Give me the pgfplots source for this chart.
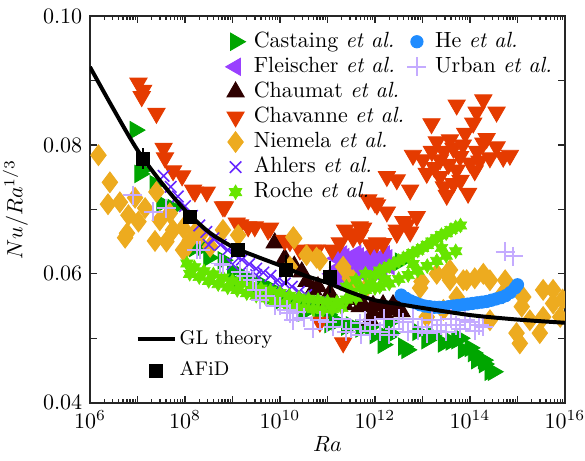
\documentclass[border=0pt]{standalone}
\usepackage{pgfplots}
\pgfplotsset{compat=1.18}
\usetikzlibrary{plotmarks}

\definecolor{cCas}{rgb}{0.00,0.65,0.00}
\definecolor{cFle}{rgb}{0.60,0.25,1.00}
\definecolor{cCha}{rgb}{0.18,0.00,0.00}
\definecolor{cChv}{rgb}{0.90,0.23,0.00}
\definecolor{cNie}{rgb}{0.93,0.67,0.12}
\definecolor{cAhl}{rgb}{0.40,0.15,1.00}
\definecolor{cRoc}{rgb}{0.40,0.90,0.00}
\definecolor{cHe}{rgb}{0.12,0.55,1.00}
\definecolor{cUrb}{rgb}{0.77,0.67,1.00}
\definecolor{axgray}{rgb}{0.15,0.15,0.15}

% six-pointed star marker
\pgfdeclareplotmark{hexagram}{%
  \pgfpathmoveto{\pgfpointpolar{90}{\pgfplotmarksize}}%
  \pgfpathlineto{\pgfpointpolar{120}{0.57735\pgfplotmarksize}}%
  \pgfpathlineto{\pgfpointpolar{150}{\pgfplotmarksize}}%
  \pgfpathlineto{\pgfpointpolar{180}{0.57735\pgfplotmarksize}}%
  \pgfpathlineto{\pgfpointpolar{210}{\pgfplotmarksize}}%
  \pgfpathlineto{\pgfpointpolar{240}{0.57735\pgfplotmarksize}}%
  \pgfpathlineto{\pgfpointpolar{270}{\pgfplotmarksize}}%
  \pgfpathlineto{\pgfpointpolar{300}{0.57735\pgfplotmarksize}}%
  \pgfpathlineto{\pgfpointpolar{330}{\pgfplotmarksize}}%
  \pgfpathlineto{\pgfpointpolar{0}{0.57735\pgfplotmarksize}}%
  \pgfpathlineto{\pgfpointpolar{30}{\pgfplotmarksize}}%
  \pgfpathlineto{\pgfpointpolar{60}{0.57735\pgfplotmarksize}}%
  \pgfpathclose
  \pgfusepathqfillstroke
}

\pgfplotsset{
  cas/.style={only marks, mark=triangle*, mark size=4.5pt, color=cCas, mark options={rotate=-90, fill=cCas, draw=cCas}},
  fle/.style={only marks, mark=triangle*, mark size=4.5pt, color=cFle, mark options={rotate=90, fill=cFle, draw=cFle}},
  cha/.style={only marks, mark=triangle*, mark size=4.5pt, color=cCha, mark options={fill=cCha, draw=cCha}},
  chv/.style={only marks, mark=triangle*, mark size=4.5pt, color=cChv, mark options={rotate=180, fill=cChv, draw=cChv}},
  nie/.style={only marks, mark=diamond*, mark size=4.7pt, color=cNie, mark options={fill=cNie, draw=cNie}},
  ahl/.style={only marks, mark=x, mark size=3.7pt, color=cAhl, mark options={line width=0.7pt}},
  roc/.style={only marks, mark=hexagram, mark size=3.3pt, color=cRoc, mark options={fill=cRoc, draw=cRoc, line width=0.3pt}},
  hee/.style={only marks, mark=*, mark size=2.8pt, color=cHe, mark options={fill=cHe, draw=cHe}},
  urb/.style={only marks, mark=+, mark size=4.3pt, color=cUrb, mark options={line width=0.9pt}},
  mleg/.style={legend image code/.code={%
      \path[draw=none, fill=none] (0cm,-0.1cm) rectangle (0.45cm,0.1cm);
      \draw[##1] plot coordinates {(0.225cm,0cm)};}},
}

\begin{document}
\begin{tikzpicture}
\begin{axis}[
  scale only axis, width=216pt, height=175.8pt,
  xmode=log, xmin=1e6, xmax=1e16, ymin=0.04, ymax=0.10,
  name=main,
  clip marker paths=true,
  xtick={1e6,1e7,1e8,1e9,1e10,1e11,1e12,1e13,1e14,1e15,1e16},
  xticklabels={$10^{6}$,,$10^{8}$,,$10^{10}$,,$10^{12}$,,$10^{14}$,,$10^{16}$},
  minor xtick={2e6,3e6,4e6,5e6,6e6,7e6,8e6,9e6,2e7,3e7,4e7,5e7,6e7,7e7,8e7,9e7,
    2e8,3e8,4e8,5e8,6e8,7e8,8e8,9e8,2e9,3e9,4e9,5e9,6e9,7e9,8e9,9e9,
    2e10,3e10,4e10,5e10,6e10,7e10,8e10,9e10,2e11,3e11,4e11,5e11,6e11,7e11,8e11,9e11,
    2e12,3e12,4e12,5e12,6e12,7e12,8e12,9e12,2e13,3e13,4e13,5e13,6e13,7e13,8e13,9e13,
    2e14,3e14,4e14,5e14,6e14,7e14,8e14,9e14,2e15,3e15,4e15,5e15,6e15,7e15,8e15,9e15},
  ytick={0.04,0.05,0.06,0.07,0.08,0.09,0.10},
  yticklabels={0.04,,0.06,,0.08,,0.10},
  xlabel={$Ra$}, ylabel={$Nu/Ra^{1/3}$},
  xlabel style={yshift=3pt},
  axis line style={axgray, line width=0.9pt},
  every tick/.style={axgray, line width=0.6pt},
  major tick length=3.2pt, minor tick length=1.8pt,
  legend columns=2,
  legend style={at={(0.276,0.964)}, anchor=north west, draw=none, fill=none,
    inner sep=0pt, row sep=1.1pt,
    nodes={inner sep=0.4pt, text height=7.2pt, text depth=2.3pt},
    /tikz/every odd column/.append style={column sep=1.5pt},
    /tikz/every even column/.append style={column sep=-1pt}},
  legend cell align=left,
]
% Castaing et al.
\addplot[cas, forget plot] coordinates {
(8.91e6,0.0823) (1.23e7,0.0761) (1.12e7,0.0755) (2.34e7,0.0739) (3.24e7,0.0709)
(5.62e7,0.0702) (2.40e8,0.0642) (1.58e8,0.0640) (3.16e8,0.0625) (6.31e8,0.0621)
(1e9,0.0605) (1.26e9,0.0585) (1.58e9,0.0598) (2.0e9,0.0592) (2.51e9,0.0578)
(3.98e9,0.0585) (5.01e9,0.0578) (6.31e9,0.0565) (7.24e9,0.0575) (1e10,0.0558)
(1.26e10,0.0562) (2.0e10,0.0556) (2.51e10,0.0552) (3.16e10,0.0540) (3.98e10,0.0548)
(6.92e10,0.0544) (1e11,0.0537) (1.12e11,0.0522) (1.26e11,0.0530) (1.58e11,0.0526)
(2.51e11,0.0518) (3.16e11,0.0520) (5.01e11,0.0515) (7.94e11,0.0518) (1e12,0.0505)
(1.48e12,0.0490) (1.78e12,0.0502) (2.0e12,0.0525) (2.09e12,0.0508) (3.98e12,0.0487)
(4.68e12,0.0482) (7.94e12,0.0510) (3.39e12,0.0619) (1.23e13,0.0497) (1.58e13,0.0505)
(2.75e13,0.0492) (3.98e13,0.0495) (5.25e13,0.0497) (6.17e13,0.0500) (7.24e13,0.0482)
(1e14,0.0485) (1.17e14,0.0477) (1.38e14,0.0466) (1.91e14,0.0466) (2.0e14,0.0460)
(2.63e14,0.0448) (3.09e14,0.0448)
};
% Fleischer et al.
\addplot[fle, forget plot] coordinates {
(1.58e11,0.0624) (2.24e11,0.0626) (3.16e11,0.0623) (4.47e11,0.0627) (6.31e11,0.0625)
(8.91e11,0.0628) (1.26e12,0.0626) (1.78e12,0.0624)
(1.78e11,0.0610) (2.51e11,0.0612) (3.55e11,0.0608) (5.01e11,0.0613) (7.08e11,0.0611)
(1e12,0.0614) (1.41e12,0.0610) (2.0e12,0.0612)
(2.0e11,0.0597) (2.82e11,0.0599) (3.98e11,0.0596) (5.62e11,0.0600) (7.94e11,0.0598)
(1.12e12,0.0601) (1.26e11,0.0600) (1.58e11,0.0590)
(2.0e11,0.0630) (3.98e11,0.0631) (7.94e11,0.0630) (1.58e12,0.0630)
};
% Chaumat et al.
\addplot[cha, forget plot] coordinates {
(7.76e9,0.0648) (1.26e10,0.0624) (2.0e10,0.0612) (2.88e10,0.0603) (3.63e10,0.0588)
(5.01e10,0.0575) (6.31e10,0.0580) (9.55e10,0.0559) (1.12e11,0.0570) (1.58e11,0.0552)
(2.34e11,0.0552) (2.95e11,0.0560) (4.79e11,0.0549) (5.62e11,0.0552) (7.94e11,0.0528)
(9.12e11,0.0539) (9.12e11,0.0551) (1.48e12,0.0552) (1.58e12,0.0540) (2.40e12,0.0552)
(2.09e12,0.0544) (3.63e12,0.0541) (3.39e12,0.0559)
};
% Chavanne et al.
\addplot[chv, forget plot] coordinates {
(1.05e7,0.0896) (1.23e7,0.0875) (1.32e7,0.0885) (2.51e7,0.0849) (3.55e7,0.0795)
(3.80e7,0.0780) (5.62e7,0.0760) (8.71e7,0.0752) (1.48e8,0.0730) (1.62e8,0.0727)
(2.88e8,0.0727) (6.31e8,0.0704) (6.92e8,0.0704) (1.23e9,0.0679) (1.45e9,0.0676)
(2.14e9,0.0673) (2.95e9,0.0673) (5.62e9,0.0668) (6.17e9,0.0671) (1.26e10,0.0652)
(1.62e10,0.0650) (2.63e10,0.0637) (5.01e10,0.0637) (5.89e10,0.0637) (1.26e11,0.0637)
(1.82e11,0.0648) (2.34e11,0.0668) (3.47e11,0.0663) (3.47e11,0.0656) (4.79e11,0.0660)
(4.79e11,0.0673) (5.62e11,0.0671) (7.24e11,0.0715) (7.94e11,0.0645) (1e12,0.0710)
(1.10e12,0.0707) (1.10e12,0.0648) (1.48e12,0.0647) (1.78e12,0.0751) (1.78e12,0.0696)
(2.88e12,0.0746) (2.88e12,0.0663) (2.88e12,0.0668) (3.98e12,0.0681) (4.68e12,0.0676)
(5.50e12,0.0665) (5.50e12,0.0730) (6.31e12,0.0784) (7.59e12,0.0689) (1.02e13,0.0777)
(1.23e13,0.0756) (1.55e13,0.0833) (1.58e13,0.0790) (1.78e13,0.0765) (2.0e13,0.0805)
(2.34e13,0.0777) (2.34e13,0.0751) (2.82e13,0.0790) (2.82e13,0.0735) (3.24e13,0.0722)
(3.55e13,0.0770) (3.80e13,0.0808) (4.47e13,0.0795) (4.47e13,0.0740) (5.25e13,0.0862)
(5.25e13,0.0761) (6.17e13,0.0782) (6.31e13,0.0745) (7.08e13,0.0800) (7.94e13,0.0818)
(9.12e13,0.0725) (1e14,0.0772) (1.17e14,0.0834) (1.26e14,0.0760) (1.41e14,0.0790)
(1.38e14,0.0851) (1.58e14,0.0775) (1.91e14,0.0870) (1.91e14,0.0803) (2.24e14,0.0810)
(2.63e14,0.0780) (3.63e14,0.0851) (3.63e14,0.0797) (5.01e14,0.0781) (6.92e14,0.0784)
(6.92e10,0.0525) (2.14e11,0.0493)
};
% Niemela et al.
\addplot[nie, forget plot] coordinates {
(1.51e6,0.0784) (2.63e6,0.0742) (2.40e6,0.0708) (4.27e6,0.0711) (8.91e6,0.0718)
(6.46e6,0.0691) (1.05e7,0.0681) (5.50e6,0.0656) (6.03e6,0.0663) (1.45e7,0.0702)
(2.51e7,0.0727) (2.95e7,0.0683) (4.79e7,0.0694) (5.62e7,0.0668) (2.34e7,0.0651)
(4.07e7,0.0650) (1e8,0.0637) (1.26e8,0.0652) (1.78e8,0.0668) (9.12e7,0.0671)
(2.09e8,0.0660) (3.39e8,0.0642) (9.12e7,0.0637) (6.31e8,0.0668) (1.32e9,0.0660)
(1.62e10,0.0611) (2.0e10,0.0655) (1.91e10,0.0657) (3.63e10,0.0629) (5.89e10,0.0625)
(6.92e10,0.0621) (2.14e11,0.0611) (2.95e11,0.0593) (3.47e11,0.0590) (6.76e11,0.0580)
(8.91e12,0.0578) (9.55e12,0.0588) (1.23e13,0.0533) (2.0e13,0.0600) (2.75e13,0.0544)
(3.24e13,0.0600) (3.80e13,0.0590) (3.80e13,0.0606) (5.25e13,0.0564) (7.24e13,0.0590)
(8.51e13,0.0590) (1.26e14,0.0593) (1.91e14,0.0600) (2.63e14,0.0590) (2.63e14,0.0528)
(5.01e14,0.0570) (5.50e14,0.0590) (9.55e14,0.0508) (1.12e15,0.0492) (1.23e15,0.0549)
(1.32e15,0.0564) (1.82e15,0.0528) (2.95e15,0.0508) (3.47e15,0.0575) (3.47e15,0.0533)
(5.62e15,0.0554) (5.62e15,0.0575) (7.94e15,0.0533) (8.91e15,0.0560)
};
% Ahlers et al.
\addplot[ahl, forget plot] coordinates {
(3.55e7,0.0752) (5.01e7,0.0735) (7.08e7,0.0720) (1e8,0.0705) (1.41e8,0.0690)
(2.0e8,0.0675) (2.82e8,0.0665) (3.16e8,0.0645) (3.98e8,0.0655) (5.62e8,0.0645)
(7.94e8,0.0637) (1e9,0.0615) (1.12e9,0.0630) (1.58e9,0.0622) (2.24e9,0.0615)
(3.16e9,0.0608) (3.16e9,0.0598) (4.47e9,0.0602) (6.31e9,0.0597) (8.91e9,0.0590)
(1e10,0.0580) (1.26e10,0.0585) (1.78e10,0.0580) (2.51e10,0.0572) (3.16e10,0.0565)
(3.55e10,0.0567) (5.01e10,0.0560) (7.08e10,0.0556)
};
% Roche et al.
\addplot[roc, forget plot] coordinates {
(1.10e8,0.0616) (1.58e8,0.0610) (2.51e8,0.0604) (3.98e8,0.0599) (6.31e8,0.0594)
(1e9,0.0589) (1.58e9,0.0585) (2.51e9,0.0581) (3.98e9,0.0577) (6.31e9,0.0574)
(1e10,0.0570) (1.58e10,0.0566) (2.51e10,0.0563) (3.98e10,0.0561) (6.31e10,0.0559)
(1e11,0.0557) (1.58e11,0.0556) (2.51e11,0.0560) (3.98e11,0.0563)
(1.26e8,0.0600) (2.0e8,0.0595) (3.16e8,0.0589) (5.01e8,0.0584) (7.94e8,0.0579)
(1.26e9,0.0575) (2.0e9,0.0570) (3.16e9,0.0566) (5.01e9,0.0562) (7.94e9,0.0558)
(1.26e10,0.0554) (2.0e10,0.0550) (3.16e10,0.0547) (5.01e10,0.0545) (7.94e10,0.0544)
(1.26e11,0.0545) (2.0e11,0.0547)
(2.51e11,0.0580) (3.98e11,0.0590) (6.31e11,0.0600) (3.16e11,0.0572) (5.01e11,0.0578)
(6.31e11,0.0575) (7.94e11,0.0585)
(1e12,0.0598) (1.26e12,0.0605) (1.58e12,0.0608) (2.0e12,0.0612) (2.51e12,0.0616)
(3.16e12,0.0620) (3.98e12,0.0624) (5.01e12,0.0628) (6.31e12,0.0632) (7.94e12,0.0636)
(1e13,0.0640) (1.26e13,0.0645) (1.58e13,0.0650) (2.0e13,0.0655) (2.51e13,0.0660)
(3.16e13,0.0663) (3.98e13,0.0668) (5.01e13,0.0672) (6.31e13,0.0675)
(1e12,0.0578) (1.26e12,0.0580) (2.0e12,0.0585) (3.16e12,0.0592) (5.01e12,0.0598)
(7.94e12,0.0605) (1.26e13,0.0612) (2.0e13,0.0620) (3.16e13,0.0628) (5.01e13,0.0635)
(1.58e12,0.0592) (6.31e12,0.0615) (2.51e13,0.0640)
};
% He et al.
\addplot[hee, forget plot] coordinates {
(3.55e12,0.0567) (4.47e12,0.0562) (5.62e12,0.0558) (7.08e12,0.0555) (8.91e12,0.0552)
(1.12e13,0.0550) (1.41e13,0.0549) (1.78e13,0.0548) (2.24e13,0.0548) (2.82e13,0.0548)
(3.55e13,0.0549) (4.47e13,0.0550) (5.62e13,0.0551) (7.08e13,0.0552) (8.91e13,0.0553)
(1.12e14,0.0554) (1.41e14,0.0555) (1.78e14,0.0556) (2.24e14,0.0557) (2.82e14,0.0559)
(3.55e14,0.0561) (4.47e14,0.0563) (5.62e14,0.0566) (7.08e14,0.0571) (8.91e14,0.0578)
(1e15,0.0583)
};
% Urban et al.
\addplot[urb, forget plot] coordinates {
(7.94e6,0.0722) (2.14e7,0.0696) (4.07e7,0.0702) (1.78e8,0.0637) (2.09e8,0.0637)
(5.5e8,0.0616) (6.31e8,0.0614) (1.45e9,0.0603) (2.0e9,0.0596) (2.69e9,0.0590)
(3.16e9,0.0575) (3.80e9,0.0560) (5.01e9,0.0565) (7.94e9,0.0550) (1e10,0.0550)
(1.38e10,0.0544) (1.62e10,0.0539) (1.91e10,0.0528) (2.24e10,0.0540) (3.16e10,0.0532)
(5.01e10,0.0515) (6.92e10,0.0528) (1e11,0.0525) (1.32e11,0.0518) (2e11,0.0530)
(2.51e11,0.0510) (3.16e11,0.0515) (4.79e11,0.0523) (5.01e11,0.0505) (6.31e11,0.0528)
(7.94e11,0.0512) (1e12,0.0520) (1.26e12,0.0510) (1.58e12,0.0530) (2e12,0.0505)
(2.51e12,0.0515) (3.16e12,0.0530) (3.98e12,0.0525) (5.01e12,0.0510) (6.31e12,0.0530)
(7.94e12,0.0512) (1e13,0.0518) (1.26e13,0.0508) (1.58e13,0.0528) (2.0e13,0.0512)
(2.51e13,0.0520) (3.16e13,0.0510) (3.98e13,0.0530) (5.01e13,0.0520) (6.31e13,0.0515)
(7.94e13,0.0528) (1e14,0.0525) (1.26e14,0.0512) (1.58e14,0.0520) (1.91e14,0.0518)
(5.5e14,0.0634) (8.13e14,0.0627)
};
% legend entries
\addlegendimage{cas, mleg}\addlegendentry{Castaing \textit{et al.}}
\addlegendimage{hee, mleg}\addlegendentry{He \textit{et al.}}
\addlegendimage{fle, mleg}\addlegendentry{Fleischer \textit{et al.}}
\addlegendimage{urb, mleg}\addlegendentry{Urban \textit{et al.}}
\addlegendimage{cha, mleg}\addlegendentry{Chaumat \textit{et al.}}
\addlegendimage{empty legend}\addlegendentry{}
\addlegendimage{chv, mleg}\addlegendentry{Chavanne \textit{et al.}}
\addlegendimage{empty legend}\addlegendentry{}
\addlegendimage{nie, mleg}\addlegendentry{Niemela \textit{et al.}}
\addlegendimage{empty legend}\addlegendentry{}
\addlegendimage{ahl, mleg}\addlegendentry{Ahlers \textit{et al.}}
\addlegendimage{empty legend}\addlegendentry{}
\addlegendimage{roc, mleg}\addlegendentry{Roche \textit{et al.}}
\end{axis}

\begin{axis}[
  scale only axis, width=216pt, height=175.8pt,
  xmode=log, xmin=1e6, xmax=1e16, ymin=0.04, ymax=0.10,
  hide axis,
  legend style={at={(0.095,0.197)}, anchor=north west, draw=none, fill=none,
    inner sep=0pt, row sep=3.4pt, font=\small,
    nodes={inner sep=1.2pt, text height=6.6pt, text depth=2.1pt}},
  legend cell align=left,
]
% GL theory
\addplot[black, line width=1.8pt, smooth] coordinates {
(1e6,0.0921) (3.16e6,0.0855) (1e7,0.0792) (3.16e7,0.0742) (1e8,0.0699)
(3.16e8,0.0665) (1e9,0.0642) (3.16e9,0.0627) (1e10,0.0613) (3.16e10,0.0598)
(1e11,0.0586) (3.16e11,0.0571) (1e12,0.0559) (3.16e12,0.0553) (1e13,0.0547)
(1e14,0.0536) (1e15,0.0529) (1e16,0.0524)
};
\addlegendentry{GL theory}
% AFiD
\addplot[only marks, mark=square*, mark size=2.95pt, black,
  error bars/.cd, y dir=both, y explicit, error mark=none,
  error bar style={line width=1pt, black}]
  coordinates {
(1.32e7,0.0779) +- (0,0.0016)
(1.26e8,0.0688) +- (0,0.0010)
(1.32e9,0.0637) +- (0,0.0010)
(1.35e10,0.0606) +- (0,0.0023)
(1.12e11,0.0595) +- (0,0.0025)
};
\addlegendentry{AFiD}
\end{axis}
\pgfresetboundingbox
\path ([shift={(-40.9pt,-26.4pt)}]main.south west) rectangle ([shift={(9.1pt,7.3pt)}]main.north east);
\end{tikzpicture}
\end{document}
